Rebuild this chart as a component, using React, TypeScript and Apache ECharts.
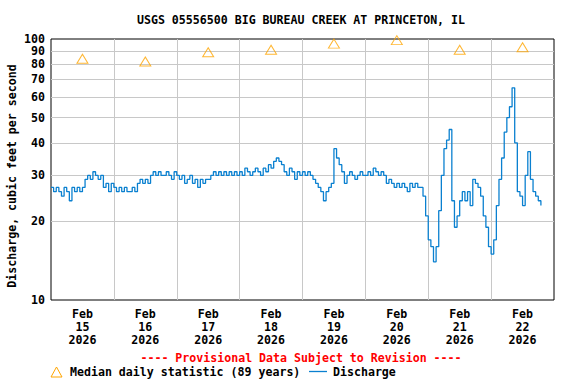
import React, { useEffect, useRef } from "react";
import * as echarts from "echarts";

const FONT = "'DejaVu Sans Mono', 'Liberation Mono', monospace";

const titleText = "USGS 05556500 BIG BUREAU CREEK AT PRINCETON, IL";
const yAxisTitle = "Discharge, cubic feet per second";
const provisionalText = "---- Provisional Data Subject to Revision ----";
const medianLabel = "Median daily statistic (89 years)";
const dischargeLabel = "Discharge";

const dayLabels = ["Feb\n15\n2026", "Feb\n16\n2026", "Feb\n17\n2026", "Feb\n18\n2026", "Feb\n19\n2026", "Feb\n20\n2026", "Feb\n21\n2026", "Feb\n22\n2026"];
const medianValues = [84, 82, 89, 91, 96, 99, 91, 93];
const gridValues = [20, 30, 40, 50, 60, 70, 80, 90];

// hourly discharge, starting Feb 15 00:00
const feb15 = [27, 26, 27, 26, 25, 27, 26, 24, 27, 26, 27, 26, 27, 29, 30, 29, 31, 30, 29, 30, 27, 28, 26, 28];
const feb16 = [27, 26, 27, 26, 27, 26, 26, 27, 26, 28, 29, 28, 29, 28, 30, 31, 30, 31, 30, 30, 31, 30, 29, 31];
const feb17 = [30, 29, 30, 28, 29, 30, 28, 29, 27, 29, 28, 29, 29, 30, 31, 30, 31, 30, 31, 30, 31, 30, 31, 30];
const feb18 = [31, 30, 32, 31, 30, 31, 32, 31, 30, 32, 31, 33, 32, 34, 35, 34, 33, 31, 30, 32, 31, 29, 31, 30];
const feb19 = [31, 30, 31, 30, 29, 28, 27, 26, 24, 26, 27, 28, 38, 35, 33, 31, 28, 30, 31, 30, 29, 30, 31, 30];
const feb20 = [30, 31, 30, 32, 31, 30, 31, 30, 28, 29, 28, 27, 28, 27, 28, 27, 26, 28, 27, 28, 27, 27, 25, 21];
const feb21 = [17, 16, 14, 16, 22, 30, 38, 41, 45, 24, 19, 21, 24, 26, 24, 26, 23, 29, 28, 27, 25, 21, 19, 16];
const feb22 = [15, 17, 23, 29, 35, 44, 50, 55, 65, 40, 26, 25, 23, 30, 37, 29, 26, 25, 24, 23];

const discharge = [...feb15, ...feb16, ...feb17, ...feb18, ...feb19, ...feb20, ...feb21, ...feb22];

export default function App() {
  const ref = useRef<HTMLDivElement>(null);
  useEffect(() => {
    if (!ref.current) return;
    document.body.style.margin = "0";
    const chart = echarts.init(ref.current, null, { renderer: "svg" });
    const labelFont = { fontFamily: FONT, fontWeight: "bold" as const, fontSize: 11.6, color: "#000" };
    chart.setOption({
      animation: false,
      backgroundColor: "#fff",
      grid: { left: 51, top: 39, width: 503, height: 261, show: true, borderColor: "#000", borderWidth: 1, backgroundColor: "transparent" },
      xAxis: [
        {
          type: "category",
          data: dayLabels,
          boundaryGap: true,
          axisLine: { show: false },
          axisTick: { show: false },
          axisLabel: { ...labelFont, interval: 0, margin: 7, lineHeight: 13 },
          splitLine: { show: true, interval: 0, showMinLine: false, showMaxLine: false, lineStyle: { color: "#c8c8c8", width: 1 } },
        },
        { type: "value", min: 0, max: 192, show: false, gridIndex: 0 },
      ],
      yAxis: {
        type: "log",
        logBase: 10,
        min: 10,
        max: 100,
        axisLine: { show: false },
        axisTick: { show: false },
        splitLine: { show: false },
        axisLabel: { ...labelFont, margin: 6, lineHeight: 10 },
      },
      series: [
        {
          name: dischargeLabel,
          type: "line",
          xAxisIndex: 1,
          yAxisIndex: 0,
          data: discharge.map((v, i) => [i, v]),
          step: "end",
          showSymbol: false,
          symbol: "none",
          lineStyle: { color: "#0a80d0", width: 1.3 },
          z: 3,
          silent: true,
          markLine: {
            silent: true,
            z: 1,
            symbol: ["none", "none"],
            lineStyle: { color: "#c8c8c8", width: 1, type: "solid" },
            label: { ...labelFont, lineHeight: 10, position: "start", distance: 6, formatter: (p: any) => String(p.value) },
            emphasis: { disabled: true },
            data: gridValues.map((v) => ({ yAxis: v })),
          },
        },
        {
          name: medianLabel,
          type: "scatter",
          xAxisIndex: 0,
          yAxisIndex: 0,
          data: medianValues,
          symbol: "triangle",
          symbolSize: [11, 9],
          clip: false,
          itemStyle: { color: "transparent", borderColor: "#ffa500", borderWidth: 1 },
          z: 4,
          silent: true,
        },
      ],
      graphic: [
        { type: "text", x: 301, y: 20, style: { text: titleText, font: `bold 11.6px ${FONT}`, fill: "#000", align: "center", verticalAlign: "middle" } },
        { type: "text", x: 12, y: 176, rotation: Math.PI / 2, style: { text: yAxisTitle, font: `bold 11.6px ${FONT}`, fill: "#000", align: "center", verticalAlign: "middle" } },
        { type: "text", x: 301, y: 358, style: { text: provisionalText, font: `bold 11.6px ${FONT}`, fill: "#ff0000", align: "center", verticalAlign: "middle" } },
        { type: "polygon", shape: { points: [[51, 377], [62, 377], [56.5, 367]] }, style: { fill: "none", stroke: "#ffa500", lineWidth: 1 } },
        { type: "text", x: 70, y: 372, style: { text: medianLabel, font: `bold 11.6px ${FONT}`, fill: "#000", align: "left", verticalAlign: "middle" } },
        { type: "line", shape: { x1: 309, y1: 371.5, x2: 327, y2: 371.5 }, style: { stroke: "#0a80d0", lineWidth: 1.3 } },
        { type: "text", x: 333, y: 372, style: { text: dischargeLabel, font: `bold 11.6px ${FONT}`, fill: "#000", align: "left", verticalAlign: "middle" } },
      ],
    });
    return () => chart.dispose();
  }, []);
  return <div ref={ref} style={{ width: 576, height: 384 }} />;
}
